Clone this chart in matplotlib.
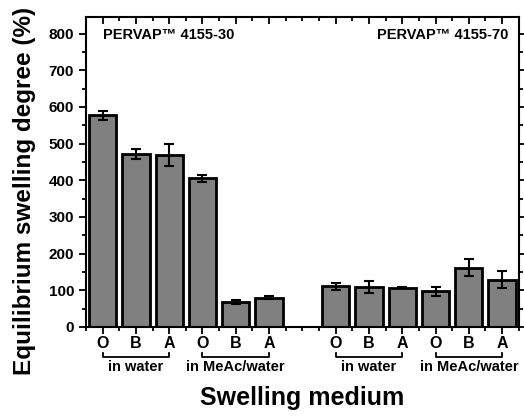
import numpy as np
import matplotlib.pyplot as plt
from matplotlib.ticker import MultipleLocator

plt.rcParams['font.family'] = ['Liberation Sans', 'DejaVu Sans']
plt.rcParams['font.weight'] = 'bold'

# bar positions (gap between the two membranes)
pos = [1, 2, 3, 4, 5, 6, 8, 9, 10, 11, 12, 13]
labels = ['O', 'B', 'A', 'O', 'B', 'A', 'O', 'B', 'A', 'O', 'B', 'A']
values = [577, 472, 470, 405, 68, 80, 111, 109, 107, 97, 162, 129]
errors = [12, 14, 30, 10, 5, 4, 10, 17, 2, 12, 22, 23]
groups = ['in water', 'in MeAc/water', 'in water', 'in MeAc/water']
group_span = [(1, 3), (4, 6), (8, 10), (11, 13)]

fig = plt.figure(figsize=(5.24, 4.17), dpi=100)
ax = fig.add_axes([0.164, 0.216, 0.826, 0.743])

ax.bar(pos, values, width=0.82, color='#808080', edgecolor='black', linewidth=2, zorder=2)
ax.errorbar(pos, values, yerr=errors, fmt='none', ecolor='black', elinewidth=1.5,
            capsize=3.5, capthick=1.5, zorder=3)

ax.set_xlim(0.5, 13.5)
ax.set_ylim(0, 845)
ax.set_xticks(pos)
ax.set_xticklabels(labels, fontsize=11.5, fontweight='bold')
ax.xaxis.set_minor_locator(MultipleLocator(0.5))
ax.yaxis.set_major_locator(MultipleLocator(100))
ax.yaxis.set_minor_locator(MultipleLocator(50))
ax.tick_params(axis='y', labelsize=11)
for lab in ax.get_yticklabels():
    lab.set_fontweight('bold')

ax.tick_params(which='major', length=5, width=1.3, top=True, right=True)
ax.tick_params(which='minor', length=3, width=1.3, top=True, right=True)
ax.tick_params(which='both', direction='out')
ax.tick_params(axis='x', pad=1.5)
for t in ax.xaxis.get_major_ticks() + ax.xaxis.get_minor_ticks():
    t.tick1line.set_marker(3)   # bottom: outward
    t.tick2line.set_marker(3)   # top: inward
for t in ax.yaxis.get_major_ticks() + ax.yaxis.get_minor_ticks():
    t.tick2line.set_marker(1)   # right: inward
for s in ax.spines.values():
    s.set_linewidth(1.5)

ax.text(0.04, 0.965, 'PERVAP\u2122 4155-30', transform=ax.transAxes,
        ha='left', va='top', fontsize=10.5, fontweight='bold')
ax.text(0.975, 0.965, 'PERVAP\u2122 4155-70', transform=ax.transAxes,
        ha='right', va='top', fontsize=10.5, fontweight='bold')

tr = ax.get_xaxis_transform()
for g, (a, b) in zip(groups, group_span):
    ax.plot([a, a, b, b], [-0.084, -0.097, -0.097, -0.084], transform=tr,
            color='black', linewidth=1.3, clip_on=False)
    ax.text((a + b) / 2, -0.108, g, transform=tr, ha='center', va='top',
            fontsize=10.5, fontweight='bold')

fig.text(0.047, 0.543, 'Equilibrium swelling degree (%)', rotation=90,
         ha='center', va='center', fontsize=17.5, fontweight='bold')
fig.text(0.577, 0.045, 'Swelling medium', ha='center', va='center',
         fontsize=18, fontweight='bold')

plt.savefig('out.png', dpi=100)
